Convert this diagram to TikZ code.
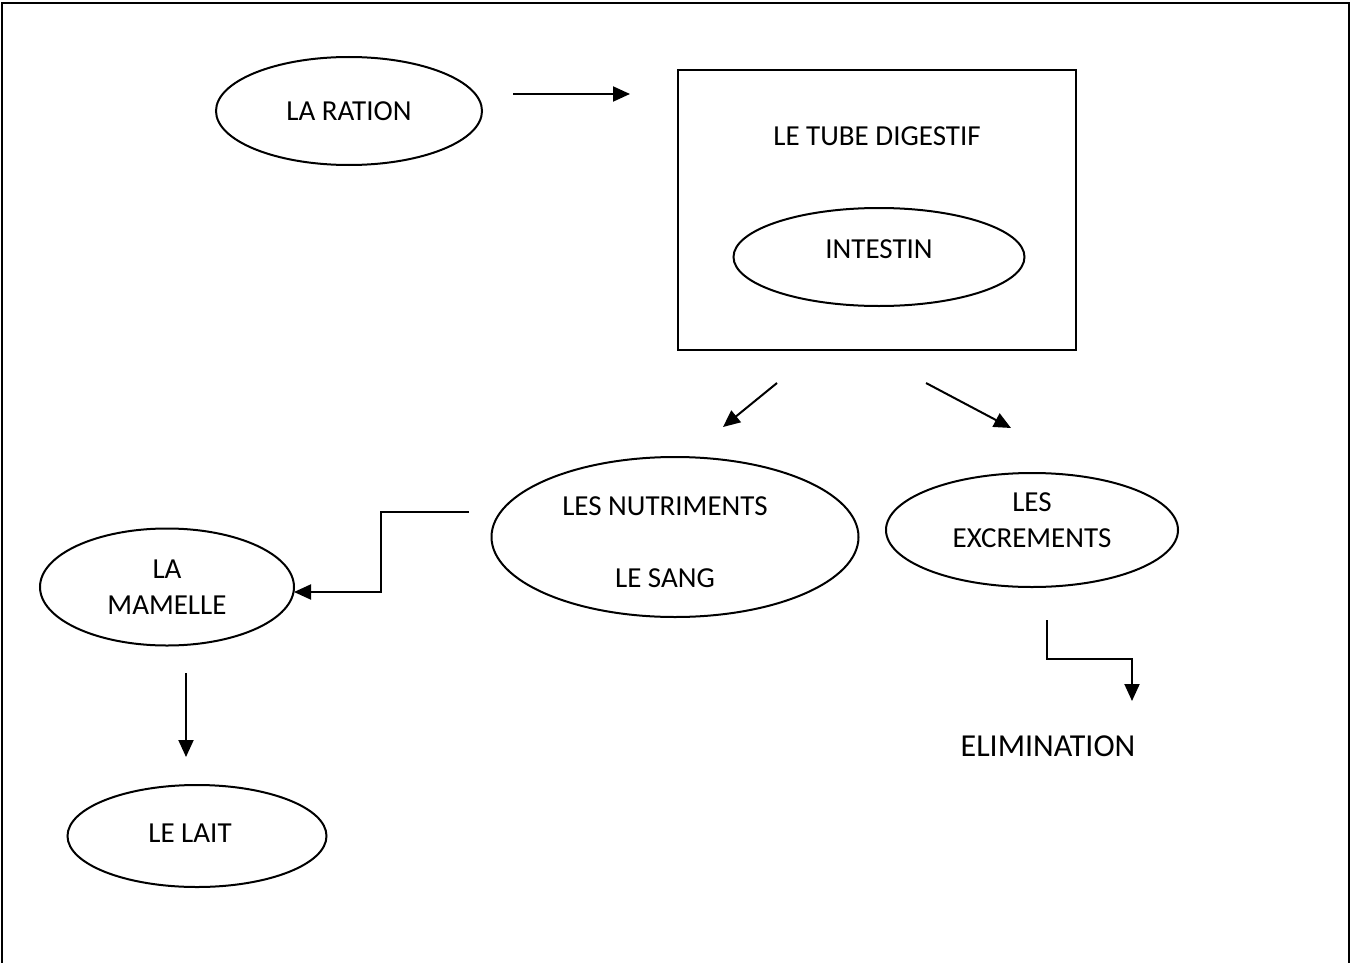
\documentclass[tikz,border=0pt]{standalone}
\usepackage{fontspec}
\setmainfont{Carlito}
\usetikzlibrary{arrows.meta,shapes.geometric}
\tikzset{
  lbl/.style={font=\fontsize{29}{34}\selectfont, inner sep=0pt},
  oval/.style={draw, line width=2pt, ellipse},
  conn/.style={line width=2pt, -{Triangle[length=17pt,width=15pt]}},
}
\begin{document}
\begin{tikzpicture}[x=1pt,y=-1pt]
\useasboundingbox (0,0) rectangle (1351,963);
% frame open at the bottom
\draw[line width=2.4pt] (2,963) -- (2,3) -- (1349,3) -- (1349,963);

% ovals
\node[oval, minimum width=266pt, minimum height=108pt] (ration) at (349,111) {};
\node[lbl] at (349,111) {LA RATION};

\node[draw, line width=2pt, minimum width=398pt, minimum height=280pt] (tube) at (877,210) {};
\node[lbl] (tubelbl) at (877,136) {LE TUBE DIGESTIF};
\node[oval, minimum width=291pt, minimum height=98pt] (intestin) at (879,257) {};
\node[lbl] at (879,249) {INTESTIN};

\node[oval, minimum width=367pt, minimum height=160pt] (nutri) at (675,537) {};
\node[lbl] at (665,506) {LES NUTRIMENTS};
\node[lbl] at (665,578) {LE SANG};

\node[oval, minimum width=292pt, minimum height=114pt] (excr) at (1032,530) {};
\node[lbl] at (1032,502) {LES};
\node[lbl] at (1032,538) {EXCREMENTS};

\node[oval, minimum width=254pt, minimum height=117pt] (mamelle) at (167,587) {};
\node[lbl] at (167,569) {LA};
\node[lbl] at (167,605) {MAMELLE};

\node[oval, minimum width=259pt, minimum height=102pt] (lait) at (197,836) {};
\node[lbl] at (190,833) {LE LAIT};

\node[font=\fontsize{32}{38}\selectfont, inner sep=0pt] (elim) at (1048,746) {ELIMINATION};

% connector end points
\coordinate (a1) at (513,94);  \coordinate (a2) at (630,94);
\coordinate (b1) at (777,383); \coordinate (b2) at (723,427);
\coordinate (c1) at (926,383); \coordinate (c2) at (1011,428);
\coordinate (d1) at (469,512); \coordinate (d2) at (294,592);
\coordinate (e1) at (186,673); \coordinate (e2) at (186,757);
\coordinate (f1) at (1047,620); \coordinate (f2) at (1132,701);

% connectors
\draw[conn] (a1) -- (a2);
\draw[conn] (b1) -- (b2);
\draw[conn] (c1) -- (c2);
\draw[conn] (d1) -- (381,512) -- (381,592) -- (d2);
\draw[conn] (e1) -- (e2);
\draw[conn] (f1) -- (1047,659) -- (1132,659) -- (f2);
\end{tikzpicture}
\end{document}
